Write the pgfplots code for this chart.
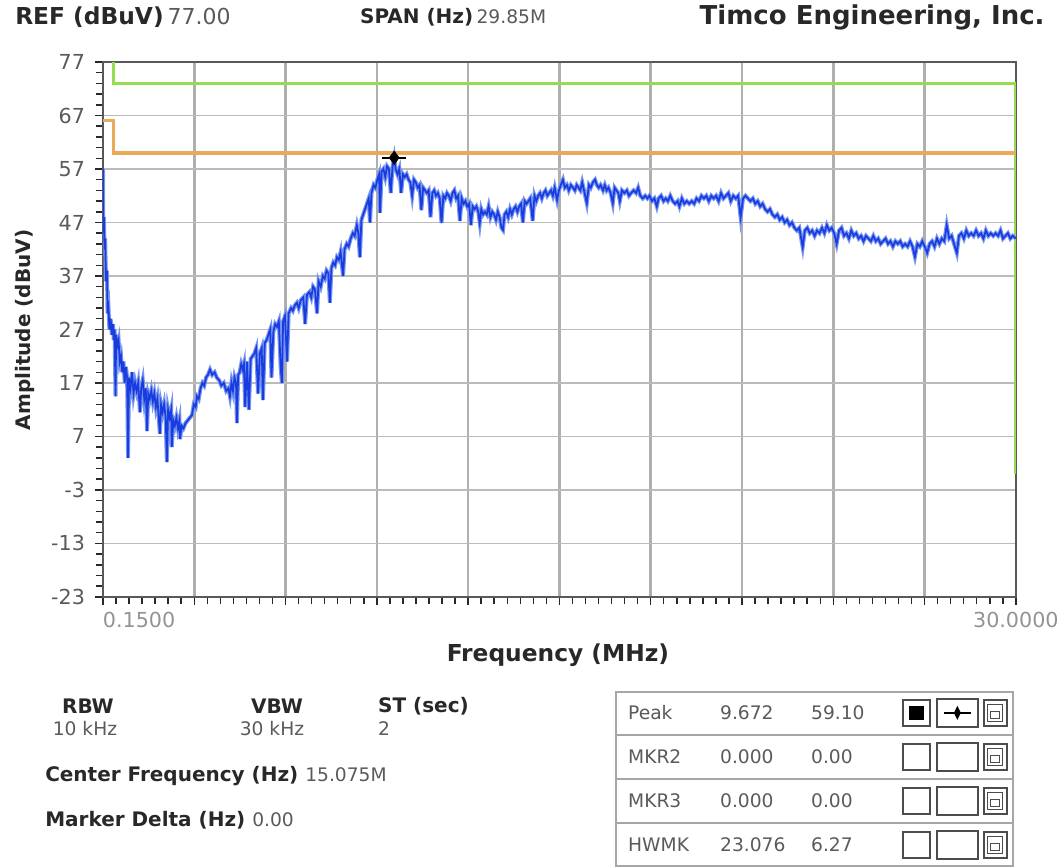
\documentclass[border=0pt]{standalone}
\usepackage{pgfplots}
\usepackage{pgfplotstable}
\pgfplotsset{compat=1.18}
\usepackage{fontspec}
\setmainfont{DejaVu Sans}
\definecolor{trace}{RGB}{25,60,225}
\definecolor{tracelight}{RGB}{120,150,240}
\definecolor{limgreen}{RGB}{150,220,80}
\definecolor{limorange}{RGB}{235,170,90}
\definecolor{gridc}{RGB}{175,175,175}
\definecolor{txt}{RGB}{40,40,40}
\definecolor{lt}{RGB}{90,90,90}
\pgfplotstableread{
x y
0.15 57
0.16 45
0.18 48
0.20 42
0.22 44
0.25 36
0.28 38
0.30 30
0.33 31
0.36 27
0.40 29
0.44 26
0.48 28
0.50 25
0.53 27
0.56 14.5
0.58 26
0.62 24
0.66 25
0.70 21
0.74 22
0.78 19
0.82 21
0.86 17
0.90 20
0.94 18
0.97 3
1.00 18
1.05 16
1.10 19
1.15 15
1.20 17
1.25 15.5
1.30 17
1.36 11.5
1.40 16
1.45 17.5
1.50 14
1.55 16
1.59 8
1.63 15
1.68 14
1.73 15.5
1.78 13.5
1.83 15
1.88 12.5
1.93 14
2.01 7.5
2.05 13
2.10 11.5
2.15 13
2.20 10.5
2.24 2.2
2.28 12
2.33 10.5
2.38 12
2.40 5
2.45 10
2.50 9
2.55 10.5
2.60 8.5
2.65 10
2.67 6.5
2.72 9
2.78 8.5
2.85 9.5
2.92 10
2.99 10.5
3.06 11
3.12 13
3.18 12.5
3.22 14.5
3.28 14
3.34 16
3.40 17
3.46 16.5
3.52 18
3.58 18.5
3.65 19.5
3.72 18.5
3.80 19
3.87 18
3.95 17.5
4.02 16.5
4.10 17
4.18 15.5
4.25 16
4.30 14.5
4.35 17
4.40 15.5
4.45 18
4.50 17
4.53 9.5
4.57 18.5
4.62 19
4.67 20.5
4.72 19.5
4.76 20.5
4.80 12.5
4.86 21
4.92 12
4.98 21.5
5.04 22
5.10 22.5
5.16 23.5
5.22 15
5.28 22.5
5.34 23.5
5.38 13.8
5.44 24.5
5.50 25
5.56 26
5.62 27
5.66 18
5.72 26.5
5.78 28
5.84 27.5
5.90 28.5
5.96 20
6.00 17
6.04 28.5
6.10 29.5
6.17 21
6.22 30
6.30 31
6.36 30.5
6.42 31.5
6.49 32
6.55 31
6.62 32.5
6.70 33
6.76 28
6.82 33.5
6.90 34
6.96 33
7.02 35
7.08 34.5
7.15 30
7.20 36
7.27 35
7.34 37
7.40 36.5
7.46 38
7.52 37.5
7.57 32
7.62 38.5
7.68 39.5
7.74 39
7.80 40.5
7.86 40
7.92 41.5
8.00 37
8.05 42
8.12 43
8.18 42.5
8.25 44
8.32 45
8.38 44.5
8.45 46.5
8.50 45
8.55 40.5
8.60 47.5
8.66 48.5
8.72 49.5
8.78 50.5
8.84 51.5
8.88 47
8.93 52.5
9.00 54
9.06 53.5
9.12 55
9.18 56
9.21 48.8
9.26 56.5
9.32 57
9.38 55.5
9.44 57.5
9.50 57
9.56 52.5
9.62 57.5
9.672 59.1
9.72 57
9.78 56
9.84 57
9.90 52.5
9.96 56
10.02 55.5
10.08 56
10.14 55
10.20 54.5
10.26 52
10.32 55
10.38 54.5
10.44 53.5
10.50 54
10.56 49.3
10.62 53.5
10.68 53
10.74 52.5
10.80 53
10.86 48
10.92 52.5
10.98 53
11.04 52
11.10 52.5
11.16 51.5
11.22 46.9
11.28 52
11.34 51.5
11.40 52.5
11.46 52
11.52 51
11.58 52.5
11.64 53
11.70 51.5
11.76 52
11.82 47.3
11.88 51.5
11.94 50.5
12.00 51
12.06 50
12.12 50.5
12.18 46.5
12.24 50
12.30 49.5
12.36 50
12.42 49
12.47 46.9
12.52 49.5
12.58 48.5
12.64 49
12.70 48.5
12.76 50
12.82 48
12.88 49
12.94 48.5
13.00 47.5
13.06 49
13.12 48
13.18 46
13.23 45.6
13.28 48.5
13.34 49
13.40 48
13.46 49.5
13.52 48.5
13.58 49.5
13.64 50
13.70 49
13.76 50
13.82 50.5
13.88 47
13.94 51
14.00 50.5
14.06 51
14.12 51.5
14.20 47.3
14.26 52
14.32 51
14.38 52
14.44 52.5
14.50 51.5
14.56 52.5
14.62 53
14.68 52
14.74 52.5
14.80 53
14.86 52
14.92 53.5
15.00 51.2
15.06 53
15.12 54
15.19 55
15.25 53.5
15.32 54
15.38 53
15.45 54
15.52 53.5
15.58 53
15.64 54
15.70 53.5
15.76 53
15.82 54.5
15.88 53
15.97 50.6
16.04 54
16.10 53.5
16.17 54.5
16.24 55
16.30 54
16.36 53.5
16.42 54
16.50 53
16.56 54
16.62 53
16.68 53.5
16.75 52.5
16.82 50.6
16.88 53.5
16.94 53
17.00 52.5
17.05 51
17.12 53
17.20 52.5
17.28 53
17.35 52
17.42 52.5
17.50 53
17.58 52.5
17.65 53.5
17.72 52
17.80 51.5
17.88 52
17.95 51.5
18.02 52
18.10 51
18.18 51.5
18.26 50
18.32 51.5
18.40 52
18.48 51
18.55 51.5
18.62 51
18.70 52
18.78 51
18.86 50.5
18.94 51
19.00 50
19.08 51.5
19.16 50.5
19.24 51
19.32 50.5
19.40 51
19.48 50.5
19.56 51.5
19.64 51
19.72 52
19.80 51.5
19.88 52
19.96 51
20.04 52
20.12 51.5
20.20 52
20.28 51
20.36 52.5
20.44 51.5
20.52 52
20.60 52.5
20.68 51
20.76 52
20.84 51.5
20.92 52
21.00 48
21.08 51.5
21.16 52
21.24 51.5
21.32 51
21.40 51.5
21.48 50.5
21.56 51
21.64 50
21.72 50.5
21.80 49.5
21.88 49
21.96 49.5
22.04 48.5
22.12 48
22.20 48.5
22.28 47.5
22.36 48
22.44 47
22.52 47.5
22.60 46.5
22.68 47
22.76 46
22.84 45.5
22.92 46
23.03 42.4
23.10 45.5
23.18 46
23.26 45
23.34 45.5
23.42 44.5
23.50 45.5
23.58 45
23.66 46
23.74 45
23.82 46.5
23.90 45.5
23.98 46
24.06 45
24.14 43
24.22 45.5
24.30 46
24.38 44.5
24.46 45
24.54 44
24.62 45.5
24.70 44.5
24.78 45
24.86 44
24.94 44.5
25.02 43.5
25.10 44.5
25.18 44
25.26 43.5
25.34 44.5
25.42 43.5
25.50 44
25.58 43
25.66 43.5
25.74 44
25.82 43
25.90 43.5
25.98 42.5
26.06 43.5
26.14 43
26.22 43.5
26.30 42.5
26.38 43
26.46 42.5
26.54 43.5
26.62 42.5
26.70 40.6
26.78 43
26.86 42.5
26.94 43.5
27.02 42.5
27.10 41.3
27.18 43
27.26 43.5
27.34 42.5
27.42 44
27.50 43
27.58 44
27.66 43.5
27.74 46.5
27.82 44
27.90 44.5
27.98 43
28.07 41.3
28.14 44.5
28.22 45
28.30 44
28.38 45.5
28.46 44.5
28.54 45
28.62 44.5
28.70 45.5
28.78 44.5
28.86 45
28.94 44
29.02 45.5
29.10 44.5
29.18 45
29.26 44.5
29.34 45
29.42 44.5
29.50 45.5
29.58 44
29.66 44.5
29.74 45
29.82 44
29.90 44.5
30.00 44
}\spectrum
\begin{document}
\begin{tikzpicture}
\begin{axis}[
  at={(77.25pt,-447.75pt)}, anchor=south west,
  scale only axis, width=684.75pt, height=401.25pt,
  xmin=0.15, xmax=30, ymin=-23, ymax=77,
  xtick={0.15,3.135,6.12,9.105,12.09,15.075,18.06,21.045,24.03,27.015,30},
  xticklabels={\makebox[0pt][l]{0.1500},,,,,,,,,,30.0000},
  ytick={-23,-13,...,77},
  minor x tick num=6, minor y tick num=4,
  grid=major,
  x grid style={gridc, line width=2pt},
  y grid style={gridc!85, line width=1.2pt},
  tick align=outside, tick pos=left,
  major tick length=6pt, minor tick length=5pt,
  every tick/.style={txt, line width=1.1pt},
  axis line style={gray!70!black, line width=1pt},
  /pgf/number format/assume math mode=true,
  tick label style={font=\fontsize{15.5}{18}\selectfont, text=lt},
  yticklabel style={xshift=-4pt},
  xticklabel style={text=gray!85, yshift=-2pt},
  clip=true,
]
\addplot[limgreen, line width=2.6pt] coordinates {(0.15,80) (0.49,80) (0.49,73) (30,73) (30,0)};
\addplot[limorange, line width=2.4pt] coordinates {(0.15,66) (0.49,66) (0.49,60) (30,60)};
\addplot[tracelight, line width=3pt] table[x=x,y=y] {\spectrum};
\addplot[trace, line width=1.3pt] table[x=x,y=y] {\spectrum};
\addplot[black, mark=diamond*, mark size=5pt, only marks] coordinates {(9.672,59.1)};
\addplot[black, mark=-, mark size=9pt, only marks, mark options={line width=1.2pt}] coordinates {(9.672,59.1)};
\end{axis}
\begin{scope}[x=0.75pt,y=-0.75pt]
\path[use as bounding box] (0,0) rectangle (1063,868);
\def\bfs{\fontsize{15}{18}\selectfont\bfseries}
\def\rgs{\fontsize{14}{17}\selectfont}
\node[anchor=west, text=txt, inner sep=0] at (15,17) {\fontsize{17.5}{20}\selectfont\bfseries REF (dBuV)\,{\fontsize{16.5}{20}\selectfont\mdseries\color{lt}77.00}};
\node[anchor=west, text=txt, inner sep=0] at (360,17) {\bfs SPAN (Hz)\,{\rgs\mdseries\color{lt}29.85M}};
\node[anchor=east, text=txt, inner sep=0] at (1045,17) {\fontsize{19.5}{22}\selectfont\bfseries Timco Engineering, Inc.};
\node[rotate=90, text=txt, inner sep=0] at (25,330) {\bfs Amplitude (dBuV)};
\node[text=txt, inner sep=0] at (558,655) {\fontsize{17.5}{20}\selectfont\bfseries Frequency (MHz)};
\node[text=txt, inner sep=0] at (88,706) {\bfs RBW};
\node[text=lt, inner sep=0] at (85,729) {\rgs 10 kHz};
\node[text=txt, inner sep=0] at (277,706) {\bfs VBW};
\node[text=lt, inner sep=0] at (272,729) {\rgs 30 kHz};
\node[anchor=west, text=txt, inner sep=0] at (378,706) {\bfs ST (sec)};
\node[anchor=west, text=lt, inner sep=0] at (378,729) {\rgs 2};
\node[anchor=west, text=txt, inner sep=0] at (45,776) {\bfs Center Frequency (Hz)\ {\rgs\mdseries\color{lt}15.075M}};
\node[anchor=west, text=txt, inner sep=0] at (45,820) {\bfs Marker Delta (Hz)\ {\rgs\mdseries\color{lt}0.00}};
% table
\draw[gray!70, line width=1.5pt] (616,692) rectangle (1013,866);
\foreach \yy in {735,779,823} \draw[gray!70, line width=1.5pt] (616,\yy) -- (1013,\yy);
\foreach \yc/\a/\b/\c in {713/Peak/9.672/59.10, 757/MKR2/0.000/0.00, 801/MKR3/0.000/0.00, 845/HWMK/23.076/6.27}{
  \node[anchor=west, text=lt, inner sep=0] at (628,\yc) {\rgs \a};
  \node[anchor=west, text=lt, inner sep=0] at (720,\yc) {\rgs \b};
  \node[anchor=west, text=lt, inner sep=0] at (811,\yc) {\rgs \c};
  \draw[gray!60!black, line width=1pt] (903,\yc-13) rectangle (930,\yc+13);
  \draw[gray!60!black, line width=1pt] (937,\yc-14) rectangle (978,\yc+14);
  \draw[gray!60!black, line width=1pt] (984,\yc-13) rectangle (1007,\yc+13);
  \draw[gray!60!black, line width=0.8pt] (988,\yc-8) rectangle (1003,\yc+9);
  \draw[gray!60!black, line width=0.8pt] (991,\yc-1) rectangle (1000,\yc+6);
}
\fill[black] (909,706) rectangle (924,720);
\draw[black, line width=1.2pt] (944,713) -- (971,713);
\fill[black] (957.5,706) -- (961,713) -- (957.5,720) -- (954,713) -- cycle;
\end{scope}
\end{tikzpicture}
\end{document}
